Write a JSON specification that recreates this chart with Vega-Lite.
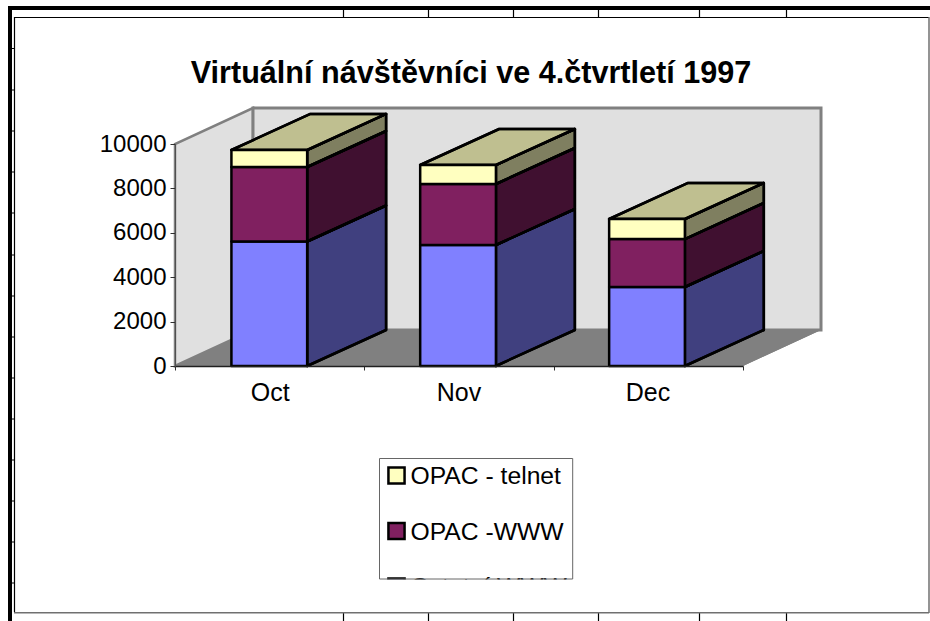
{"$schema":"https://vega.github.io/schema/vega-lite/v6.json","width":930,"height":621,"padding":0,"autosize":"none","background":"white","config":{"view":{"stroke":null},"font":"Liberation Sans"},"title":{"text":"Virtuální návštěvníci ve 4.čtvrtletí 1997","font":"Liberation Sans","fontSize":30.6,"fontWeight":"bold","color":"black","anchor":"middle","frame":"group","offset":-90,"dx":6},"resolve":{"scale":{"x":"independent","y":"independent"}},"layer":[{"layer":[{"data":{"values":[{"x":10,"x2":10,"y":6,"y2":621},{"x":8,"x2":930,"y":8,"y2":8}]},"mark":{"type":"rule","stroke":"black","strokeWidth":4},"encoding":{"x":{"field":"x","type":"quantitative","scale":{"domain":[0,930],"range":[0,930],"nice":false,"zero":false},"axis":null},"x2":{"field":"x2"},"y":{"field":"y","type":"quantitative","scale":{"domain":[0,621],"range":[0,621],"nice":false,"zero":false},"axis":null},"y2":{"field":"y2"}}},{"data":{"values":[{"x":14.5,"x2":14.5,"y":17,"y2":612},{"x":14,"x2":929,"y":17.5,"y2":17.5},{"x":343.5,"x2":343.5,"y":10,"y2":17},{"x":428.5,"x2":428.5,"y":10,"y2":17},{"x":513.5,"x2":513.5,"y":10,"y2":17},{"x":598.5,"x2":598.5,"y":10,"y2":17},{"x":699.5,"x2":699.5,"y":10,"y2":17},{"x":786.5,"x2":786.5,"y":10,"y2":17},{"x":343.5,"x2":343.5,"y":613,"y2":621},{"x":428.5,"x2":428.5,"y":613,"y2":621},{"x":513.5,"x2":513.5,"y":613,"y2":621},{"x":598.5,"x2":598.5,"y":613,"y2":621},{"x":699.5,"x2":699.5,"y":613,"y2":621},{"x":786.5,"x2":786.5,"y":613,"y2":621},{"x":12,"x2":14,"y":48.5,"y2":48.5},{"x":12,"x2":14,"y":90,"y2":90},{"x":12,"x2":14,"y":131,"y2":131},{"x":12,"x2":14,"y":172,"y2":172},{"x":12,"x2":14,"y":213,"y2":213},{"x":12,"x2":14,"y":255,"y2":255},{"x":12,"x2":14,"y":296,"y2":296},{"x":12,"x2":14,"y":337,"y2":337},{"x":12,"x2":14,"y":378,"y2":378},{"x":12,"x2":14,"y":419,"y2":419},{"x":12,"x2":14,"y":460,"y2":460},{"x":12,"x2":14,"y":501,"y2":501},{"x":12,"x2":14,"y":542,"y2":542},{"x":12,"x2":14,"y":583,"y2":583}]},"mark":{"type":"rule","stroke":"black","strokeWidth":1.2},"encoding":{"x":{"field":"x","type":"quantitative","scale":{"domain":[0,930],"range":[0,930],"nice":false,"zero":false}},"x2":{"field":"x2"},"y":{"field":"y","type":"quantitative","scale":{"domain":[0,621],"range":[0,621],"nice":false,"zero":false}},"y2":{"field":"y2"}}},{"data":{"values":[{"x":929,"x2":929,"y":17,"y2":613},{"x":14,"x2":929,"y":612.7,"y2":612.7}]},"mark":{"type":"rule","stroke":"#707070","strokeWidth":1.5},"encoding":{"x":{"field":"x","type":"quantitative","scale":{"domain":[0,930],"range":[0,930],"nice":false,"zero":false}},"x2":{"field":"x2"},"y":{"field":"y","type":"quantitative","scale":{"domain":[0,621],"range":[0,621],"nice":false,"zero":false}},"y2":{"field":"y2"}}},{"data":{"values":[{"series":"OPAC - telnet","swatchX":396.5,"textX":410.5,"y":475.5},{"series":"OPAC -WWW","swatchX":396.5,"textX":410.5,"y":531},{"series":"Ostatní WWW","swatchX":396.5,"textX":410.5,"y":586.5}]},"layer":[{"mark":{"type":"square","size":260,"opacity":1,"stroke":"black","strokeWidth":2.5},"encoding":{"x":{"field":"swatchX","type":"quantitative","scale":{"domain":[0,930],"range":[0,930],"nice":false,"zero":false}},"y":{"field":"y","type":"quantitative","scale":{"domain":[0,621],"range":[0,621],"nice":false,"zero":false}},"fill":{"field":"series","type":"nominal","legend":null,"scale":{"domain":["OPAC - telnet","OPAC -WWW","Ostatní WWW"],"range":["#ffffc0","#802060","#8080ff"]}}}},{"mark":{"type":"text","align":"left","baseline":"middle","font":"Liberation Sans","fontSize":24.7,"color":"black","dy":1.5},"encoding":{"x":{"field":"textX","type":"quantitative","scale":{"domain":[0,930],"range":[0,930],"nice":false,"zero":false}},"y":{"field":"y","type":"quantitative","scale":{"domain":[0,621],"range":[0,621],"nice":false,"zero":false}},"text":{"field":"series"}}}]},{"data":{"values":[{"x":379,"x2":574,"y":579.5,"y2":611}]},"mark":{"type":"rect","fill":"white"},"encoding":{"x":{"field":"x","type":"quantitative","scale":{"domain":[0,930],"range":[0,930],"nice":false,"zero":false}},"x2":{"field":"x2"},"y":{"field":"y","type":"quantitative","scale":{"domain":[0,621],"range":[0,621],"nice":false,"zero":false}},"y2":{"field":"y2"}}},{"data":{"values":[{"x":379.5,"x2":572.7,"y":458.5,"y2":579}]},"mark":{"type":"rect","fill":null,"stroke":"#666666","strokeWidth":1},"encoding":{"x":{"field":"x","type":"quantitative","scale":{"domain":[0,930],"range":[0,930],"nice":false,"zero":false}},"x2":{"field":"x2"},"y":{"field":"y","type":"quantitative","scale":{"domain":[0,621],"range":[0,621],"nice":false,"zero":false}},"y2":{"field":"y2"}}}]},{"layer":[{"data":{"values":[{"y":0,"x":0,"x2":3},{"y":1622,"x":0.412,"x2":3.412}]},"mark":{"type":"area","orient":"horizontal","fill":"#808080"},"encoding":{"y":{"field":"y","type":"quantitative","scale":{"domain":[0,10000],"range":[366,144]},"axis":{"orient":"left","offset":-175,"values":[0,2000,4000,6000,8000,10000],"title":null,"grid":false,"format":"d","labelFont":"Liberation Sans","labelFontSize":24,"labelColor":"black","labelPadding":4,"tickSize":5,"tickColor":"#303030","tickWidth":1,"domainColor":"#505050","domainWidth":1,"zindex":1}},"x":{"field":"x","type":"quantitative","scale":{"domain":[0,3],"range":[175,743]},"axis":{"orient":"bottom","offset":-255,"values":[0,1,2,3],"labels":false,"title":null,"grid":false,"tickSize":4,"tickColor":"#303030","tickWidth":1,"domainColor":"#202020","domainWidth":1.5,"zindex":1}},"x2":{"field":"x2"}}},{"data":{"values":[{"x":0,"y":0,"y2":10000},{"x":0.412,"y":1622,"y2":11622}]},"mark":{"type":"area","fill":"#e0e0e0","stroke":"#808080","strokeWidth":2.5},"encoding":{"x":{"field":"x","type":"quantitative"},"y":{"field":"y","type":"quantitative"},"y2":{"field":"y2"}}},{"data":{"values":[{"x":0.412,"x2":3.412,"y":1622,"y2":11622}]},"mark":{"type":"rect","fill":"#e0e0e0","stroke":"#808080","strokeWidth":3},"encoding":{"x":{"field":"x","type":"quantitative"},"x2":{"field":"x2"},"y":{"field":"y","type":"quantitative"},"y2":{"field":"y2"}}},{"data":{"values":[{"y":0,"x":0,"x2":3},{"y":1622,"x":0.412,"x2":3.412}]},"mark":{"type":"area","orient":"horizontal","fill":"#808080"},"encoding":{"y":{"field":"y","type":"quantitative"},"x":{"field":"x","type":"quantitative"},"x2":{"field":"x2"}}},{"data":{"values":[{"month":"Oct","slot":0.498,"series":"Ostatní WWW","rank":1,"value":5608},{"month":"Oct","slot":0.498,"series":"OPAC -WWW","rank":2,"value":3356},{"month":"Oct","slot":0.498,"series":"OPAC - telnet","rank":3,"value":766},{"month":"Nov","slot":1.495,"series":"Ostatní WWW","rank":1,"value":5450},{"month":"Nov","slot":1.495,"series":"OPAC -WWW","rank":2,"value":2748},{"month":"Nov","slot":1.495,"series":"OPAC - telnet","rank":3,"value":856},{"month":"Dec","slot":2.493,"series":"Ostatní WWW","rank":1,"value":3559},{"month":"Dec","slot":2.493,"series":"OPAC -WWW","rank":2,"value":2161},{"month":"Dec","slot":2.493,"series":"OPAC - telnet","rank":3,"value":902}]},"transform":[{"stack":"value","groupby":["month"],"sort":[{"field":"rank","order":"ascending"}],"as":["v0","v1"]},{"calculate":"0","as":"end0"},{"calculate":"1","as":"end1"},{"fold":["end0","end1"],"as":["end","depth"]},{"calculate":"datum.slot+0.2+datum.depth*0.417","as":"sideX"},{"calculate":"datum.v0+datum.depth*1622","as":"sideLow"},{"calculate":"datum.v1+datum.depth*1622","as":"sideHigh"},{"calculate":"datum.slot-0.2+datum.depth*0.417","as":"topLeft"},{"calculate":"datum.slot+0.2+datum.depth*0.417","as":"topRight"},{"calculate":"datum.slot-0.2","as":"left"},{"calculate":"datum.slot+0.2","as":"right"}],"layer":[{"mark":{"type":"area","stroke":"black","strokeWidth":2.5,"strokeJoin":"round"},"encoding":{"x":{"field":"sideX","type":"quantitative"},"y":{"field":"sideLow","type":"quantitative"},"y2":{"field":"sideHigh"},"detail":{"field":"month"},"fill":{"field":"series","type":"nominal","legend":null}}},{"mark":{"type":"area","fill":"black","fillOpacity":0.5,"stroke":"black","strokeWidth":2.5,"strokeJoin":"round"},"encoding":{"x":{"field":"sideX","type":"quantitative"},"y":{"field":"sideLow","type":"quantitative"},"y2":{"field":"sideHigh"},"detail":[{"field":"month"},{"field":"series"}]}},{"transform":[{"filter":"datum.rank===3"}],"mark":{"type":"area","orient":"horizontal","stroke":"black","strokeWidth":2.5,"strokeJoin":"round"},"encoding":{"y":{"field":"sideHigh","type":"quantitative"},"x":{"field":"topLeft","type":"quantitative"},"x2":{"field":"topRight"},"detail":{"field":"month"},"fill":{"field":"series","type":"nominal","legend":null}}},{"transform":[{"filter":"datum.rank===3"}],"mark":{"type":"area","orient":"horizontal","fill":"black","fillOpacity":0.25,"stroke":"black","strokeWidth":2.5,"strokeJoin":"round"},"encoding":{"y":{"field":"sideHigh","type":"quantitative"},"x":{"field":"topLeft","type":"quantitative"},"x2":{"field":"topRight"},"detail":{"field":"month"}}},{"transform":[{"filter":"datum.end==='end0'"}],"mark":{"type":"rect","stroke":"black","strokeWidth":2.5,"strokeJoin":"round"},"encoding":{"x":{"field":"left","type":"quantitative"},"x2":{"field":"right"},"y":{"field":"v0","type":"quantitative"},"y2":{"field":"v1"},"fill":{"field":"series","type":"nominal","legend":null}}},{"transform":[{"filter":"datum.end==='end0' && datum.rank===1"}],"mark":{"type":"text","font":"Liberation Sans","fontSize":25,"color":"black","dy":27,"dx":1},"encoding":{"x":{"field":"slot","type":"quantitative"},"y":{"datum":0,"type":"quantitative"},"text":{"field":"month"}}}]}]}]}
